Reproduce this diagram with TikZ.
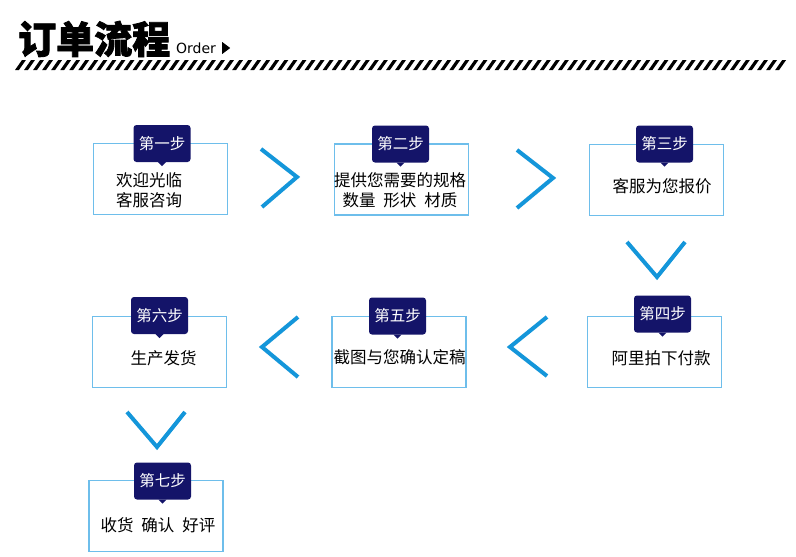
\documentclass[tikz,border=0pt]{standalone}
\usepackage{fontspec}
\newfontfamily\cjk{Noto Sans CJK SC}
\newfontfamily\titlefont[BoldFeatures={FakeBold=2}]{Noto Sans CJK SC}
\newfontfamily\latinf{DejaVu Sans}
\definecolor{framecol}{RGB}{110,190,235}
\definecolor{chevcol}{RGB}{20,150,218}
\definecolor{tagcol}{RGB}{20,20,105}
\newcommand\steptag[4]{%
  \node[tagbox] (#1) at (#2,#3) {#4};
  \fill[tagcol] ([xshift=-4pt]#1.south) -- ([xshift=4pt]#1.south) -- ([yshift=-4pt]#1.south) -- cycle;
}
\begin{document}
\begin{tikzpicture}[x=1pt,y=-1pt,
  framebox/.style={draw=framecol, line width=1.3pt, minimum width=134pt, minimum height=71pt, inner sep=0pt},
  tagbox/.style={fill=tagcol, rounded corners=3pt, minimum width=57pt, minimum height=37pt, inner sep=0pt, text=white, font=\cjk\fontsize{15.5}{17}\selectfont},
  steptext/.style={font=\cjk\fontsize{16.5}{20}\selectfont, align=center, inner sep=0pt},
  chev/.style={draw=chevcol, line width=4pt, miter limit=10}]
\useasboundingbox (0,0) rectangle (796,557);
\fill[white] (0,0) rectangle (796,557);

% title
\node[anchor=west, inner sep=0pt, font=\titlefont\bfseries\fontsize{38}{40}\selectfont] (title) at (18,39) {订单流程};
\node[anchor=west, inner sep=0pt, font=\latinf\fontsize{14}{16}\selectfont] (order) at (176,48) {Order};
\fill ([xshift=6pt,yshift=6pt]order.east) -- ([xshift=14pt]order.east) -- ([xshift=6pt,yshift=-6pt]order.east) -- cycle;
\foreach \i in {0,...,84} {
  \fill ({15+9.05*\i},70) -- ({15+9.05*\i+3.9},70) -- ({15+9.05*\i+10.9},60) -- ({15+9.05*\i+7},60) -- cycle;
}

% boxes
\node[framebox] (b1) at (160.5,179) {};
\node[framebox] (b2) at (401.5,179.5) {};
\node[framebox] (b3) at (656.5,180) {};
\node[framebox] (b4) at (654.5,352) {};
\node[framebox] (b5) at (399,352) {};
\node[framebox] (b6) at (159.5,352) {};
\node[framebox] (b7) at (156,516) {};

% texts
\node[steptext, align=left] (x1) at (149,190) {欢迎光临\\客服咨询};
\node[steptext] (x2) at (400,190.5) {提供您需要的规格\\数量\hspace{8pt}形状\hspace{8pt}材质};
\node[steptext] (x3) at (662,186) {客服为您报价};
\node[steptext] (x4) at (661,358) {阿里拍下付款};
\node[steptext] (x5) at (399.5,357) {截图与您确认定稿};
\node[steptext] (x6) at (163.5,358) {生产发货};
\node[steptext] (x7) at (158,525) {收货\hspace{8pt}确认\hspace{8pt}好评};

% tags
\steptag{t1}{162}{143.5}{第一步}
\steptag{t2}{400.5}{144}{第二步}
\steptag{t3}{664.5}{144}{第三步}
\steptag{t4}{662.5}{314}{第四步}
\steptag{t5}{397.5}{316}{第五步}
\steptag{t6}{159.5}{315.5}{第六步}
\steptag{t7}{162.5}{481}{第七步}

% chevrons
\draw[chev] (261,149) -- (297,177) -- (262,207);
\draw[chev] (517,150) -- (553,178) -- (517,208);
\draw[chev] (627,242) -- (657,277) -- (685,242);
\draw[chev] (547,317) -- (510,347) -- (547,376);
\draw[chev] (298,317) -- (262,347) -- (298,377);
\draw[chev] (127,412) -- (157,447) -- (185,412);
\end{tikzpicture}
\end{document}
